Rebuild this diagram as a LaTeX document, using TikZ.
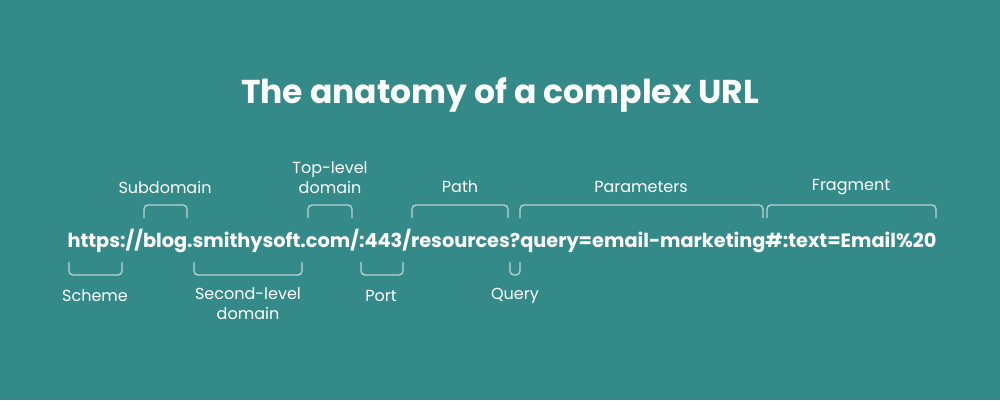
\documentclass[tikz,border=0pt]{standalone}
\usepackage{fontspec}
\setmainfont{Poppins}
\usepackage{tikz}
\definecolor{teal bg}{HTML}{348A88}
\definecolor{brace col}{HTML}{B9D6D5}

\begin{document}
\begin{tikzpicture}[
  x=1pt, y=-1pt,
  part label/.style={text=white, font=\fontsize{16}{20}\selectfont, align=center},
  brace/.style={draw=brace col, line width=1.3pt, rounded corners=4pt},
]

\fill[teal bg] (0,0) rectangle (1000,400);
\useasboundingbox (0,0) rectangle (1000,400);

\node[text=white, font=\fontsize{33}{38}\selectfont\bfseries] (title) at (500,95) {The anatomy of a complex URL};
\node[text=white, font=\fontsize{19.3}{22}\selectfont\bfseries] (url) at (502,241) {https://blog.smithysoft.com/:443/resources?query=email-marketing\#:text=Email\%20};

% braces above the url
\foreach \a/\b in {144/187, 308/352, 412/508, 520/763, 767/936} {
  \draw[brace] (\a,218) -- (\a,205) -- (\b,205) -- (\b,218);
}
% braces below the url
\foreach \a/\b in {69/122, 194/302, 361/403, 510/520} {
  \draw[brace] (\a,262) -- (\a,275) -- (\b,275) -- (\b,262);
}

\node[part label] (subdomain) at (165,187) {Subdomain};
\node[part label, anchor=south] (tld) at (330,197) {Top-level\\domain};
\node[part label] (path) at (460,187) {Path};
\node[part label] (params) at (641,187) {Parameters};
\node[part label] (fragment) at (851,187) {Fragment};

\node[part label] (scheme) at (95,296) {Scheme};
\node[part label, anchor=north] (sld) at (248,284) {Second-level\\domain};
\node[part label] (port) at (381,296) {Port};
\node[part label] (query) at (515,296) {Query};
\end{tikzpicture}
\end{document}
